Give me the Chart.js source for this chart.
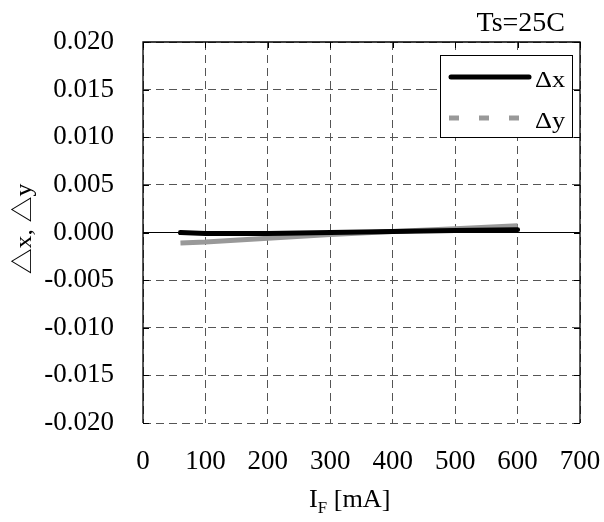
<!DOCTYPE html>
<html>
<head>
<meta charset="utf-8">
<script src="https://cdn.jsdelivr.net/npm/chart.js@4.4.0/dist/chart.umd.min.js"></script>
<style>
    html, body { margin: 0; padding: 0; background: #fff; }
    #wrap { width: 604px; height: 522px; }
</style>
</head>
<body>
<div id="wrap"><canvas id="chart"></canvas></div>
<script>
// Chart data
const currents = [60, 100, 200, 300, 400, 500, 600];
const deltaX = [0.0000, -0.0001, -0.0001, 0.0000, 0.0001, 0.0002, 0.0003];
const deltaY = [-0.0011, -0.0010, -0.0006, -0.0002, 0.0001, 0.0004, 0.0007];
const seriesNames = ['\u0394x', '\u0394y'];
const chartTitle = 'Ts=25C';
const yTitle = '\u25B3x, \u25B3y';

const serif = '"Liberation Serif", "Times New Roman", "Noto Sans CJK JP", serif';

// draw text, optionally stretched horizontally
function wideText(ctx, text, x, y, size, sx, align) {
    ctx.save();
    ctx.font = size + 'px ' + serif;
    const w = ctx.measureText(text).width * sx;
    let left = x;
    if (align === 'right') left = x - w;
    if (align === 'center') left = x - w / 2;
    ctx.translate(left, y);
    ctx.scale(sx, 1);
    ctx.textAlign = 'left';
    ctx.fillText(text, 0, 0);
    ctx.restore();
    return w;
}

// Frame, inner ticks, titles and legend box
const decorPlugin = {
    id: 'decor',
    afterDraw(chart) {
        const ctx = chart.ctx;
        const a = chart.chartArea;
        const xs = chart.scales.x, ys = chart.scales.y;
        ctx.save();
        ctx.strokeStyle = '#000';
        ctx.lineWidth = 1.3;
        ctx.beginPath();
        ctx.moveTo(a.left, a.bottom);
        ctx.lineTo(a.left, a.top);
        ctx.lineTo(a.right, a.top);
        ctx.lineTo(a.right, a.bottom);
        ctx.stroke();

        // short inner tick marks
        ctx.lineWidth = 1;
        ctx.beginPath();
        ys.ticks.forEach(t => {
            const p = Math.round(ys.getPixelForValue(t.value)) + 0.5;
            ctx.moveTo(a.left, p); ctx.lineTo(a.left + 6, p);
            ctx.moveTo(a.right - 6, p); ctx.lineTo(a.right, p);
        });
        xs.ticks.forEach(t => {
            const p = Math.round(xs.getPixelForValue(t.value)) + 0.5;
            ctx.moveTo(p, a.top); ctx.lineTo(p, a.top + 6);
        });
        ctx.stroke();

        ctx.fillStyle = '#000';
        ctx.textBaseline = 'alphabetic';
        wideText(ctx, chartTitle, 565, 31, 28, 1, 'right');

        // y title, rotated
        ctx.save();
        ctx.translate(31, 229);
        ctx.rotate(-Math.PI / 2);
        wideText(ctx, yTitle, 0, 0, 24, 1.08, 'center');
        ctx.restore();

        // x title with subscript
        let x = 309;
        x += wideText(ctx, 'I', x, 507, 25, 1.05, 'left');
        x += wideText(ctx, 'F', x, 513, 16, 1.05, 'left');
        wideText(ctx, ' [mA]', x, 507, 25, 1.05, 'left');

        // legend
        const lx = 440, ly = 55, lw = 132, lh = 82;
        ctx.fillStyle = '#fff';
        ctx.fillRect(lx, ly, lw, lh);
        ctx.strokeStyle = '#000';
        ctx.lineWidth = 1;
        ctx.strokeRect(lx + 0.5, ly + 0.5, lw, lh);
        chart.data.datasets.forEach((ds, i) => {
            const yy = ly + 22 + i * 41;
            const dashed = i === 1;
            ctx.save();
            ctx.strokeStyle = ds.borderColor;
            ctx.lineWidth = ds.borderWidth;
            ctx.lineCap = dashed ? 'butt' : 'round';
            ctx.setLineDash(dashed ? [10, 20] : []);
            ctx.beginPath();
            ctx.moveTo(dashed ? 449 : 451, yy);
            ctx.lineTo(529, yy);
            ctx.stroke();
            ctx.restore();
            ctx.fillStyle = '#000';
            wideText(ctx, ds.label, 535, yy + 10, 24, 1.1, 'left');
        });
        ctx.restore();
    }
};

const ctx = document.getElementById('chart');
new Chart(ctx, {
    type: 'line',
    data: {
        datasets: [
            {
                label: seriesNames[0],
                data: currents.map((c, i) => ({ x: c, y: deltaX[i] })),
                borderColor: '#000',
                borderWidth: 5,
                borderCapStyle: 'round',
                pointRadius: 0,
                tension: 0,
                order: 1
            },
            {
                label: seriesNames[1],
                data: currents.map((c, i) => ({ x: c, y: deltaY[i] })),
                borderColor: '#999999',
                borderWidth: 5,
                pointRadius: 0,
                tension: 0,
                order: 2
            }
        ]
    },
    options: {
        responsive: true,
        maintainAspectRatio: false,
        animation: false,
        layout: { padding: { top: 42, right: 24, left: 0, bottom: 0 } },
        plugins: {
            legend: { display: false },
            tooltip: { enabled: false }
        },
        scales: {
            x: {
                type: 'linear',
                min: 0,
                max: 700,
                ticks: {
                    stepSize: 100,
                    padding: 23,
                    color: '#000',
                    font: { family: serif, size: 27 }
                },
                grid: {
                    color: '#555',
                    lineWidth: 1,
                    drawTicks: false
                },
                border: { display: false, dash: [8, 5] },
                afterFit: (scale) => {
                    scale.height = 99;
                    scale.paddingLeft = 0;
                    scale.paddingRight = 0;
                }
            },
            y: {
                min: -0.02,
                max: 0.02,
                ticks: {
                    stepSize: 0.005,
                    padding: 29,
                    color: '#000',
                    font: { family: serif, size: 27 },
                    callback: (v) => v.toFixed(3)
                },
                grid: {
                    color: (c) => (c.tick && Math.abs(c.tick.value) < 1e-9) ? '#000' : '#555',
                    lineWidth: 1,
                    drawTicks: false
                },
                border: {
                    display: false,
                    dash: (c) => (c.tick && Math.abs(c.tick.value) < 1e-9) ? [] : [8, 5]
                },
                afterFit: (scale) => {
                    scale.width = 143;
                    scale.paddingTop = 0;
                    scale.paddingBottom = 0;
                }
            }
        }
    },
    plugins: [decorPlugin]
});
</script>
</body>
</html>
